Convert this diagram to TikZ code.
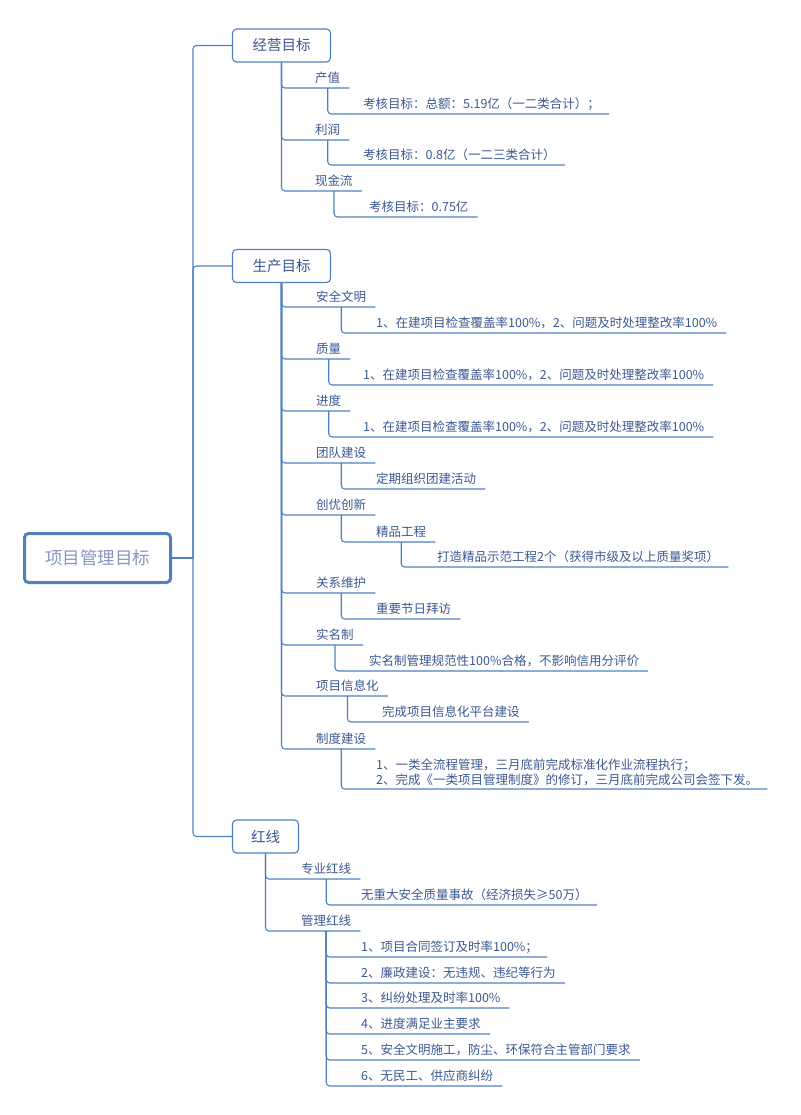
\documentclass[tikz,border=0pt]{standalone}
\usepackage{fontspec}
\setmainfont{Noto Sans CJK SC}
\definecolor{ln}{RGB}{79,129,189}
\definecolor{tx}{RGB}{58,88,145}
\definecolor{rt}{RGB}{135,150,190}
\tikzset{
 conn/.style={draw=ln, line width=1.1pt, rounded corners=3.5pt},
 lblbase/.style={anchor=south west, inner sep=0pt, text=tx, font=\fontsize{12.5}{15}\selectfont},
 lbl/.style={lblbase, text height=9.5pt, text depth=5pt},
 l1box/.style={draw=ln, line width=1.1pt, rounded corners=4pt, minimum height=33pt, inner sep=0pt, text=tx, font=\fontsize{14.5}{17}\selectfont, fill=white},
 rootbox/.style={draw=ln, line width=3pt, rounded corners=4pt, minimum width=146pt, minimum height=49pt, inner sep=0pt, text=rt, font=\fontsize{17.5}{20}\selectfont, fill=white}
}
\begin{document}
\begin{tikzpicture}[x=1pt,y=-1pt]
\useasboundingbox (0,0) rectangle (800,1115);
% root and level 1
\node[rootbox] (root) at (97.5,558) {项目管理目标};
\coordinate (tk) at (193,558);
\node[l1box, minimum width=98pt] (jy) at (281.5,45.5) {经营目标};
\node[l1box, minimum width=98pt] (sc) at (281.5,266) {生产目标};
\node[l1box, minimum width=66pt] (hx) at (265.5,836.5) {红线};
\draw[conn] (root.east) -- (tk);
\draw[conn] (tk) |- (jy.west);
\draw[conn] (tk) |- (sc.west);
\draw[conn] (tk) |- (hx.west);

% 经营目标
\node[lbl] (cz) at (315,88) {产值};
\node[lbl] (cz1) at (363,114) {考核目标：总额：5.19亿（一二类合计）；};
\node[lbl] (lr) at (315,140) {利润};
\node[lbl] (lr1) at (363,165) {考核目标：0.8亿（一二三类合计）};
\node[lbl] (xj) at (315,191) {现金流};
\node[lbl] (xj1) at (369,217) {考核目标：0.75亿};
\draw[conn] (jy.south) |- ([xshift=9pt]cz.south east);
\draw[conn] (jy.south) |- ([xshift=9pt]lr.south east);
\draw[conn] (jy.south) |- ([xshift=9pt]xj.south east);
\draw[conn] (cz.south) |- ([xshift=9pt]cz1.south east);
\draw[conn] (lr.south) |- ([xshift=9pt]lr1.south east);
\draw[conn] (xj.south) |- ([xshift=9pt]xj1.south east);

% 生产目标
\node[lbl] (aq) at (316,307) {安全文明};
\node[lbl] (aq1) at (376,333) {1、在建项目检查覆盖率100\%，2、问题及时处理整改率100\%};
\node[lbl] (zl) at (316,359) {质量};
\node[lbl] (zl1) at (363,385) {1、在建项目检查覆盖率100\%，2、问题及时处理整改率100\%};
\node[lbl] (jd) at (316,411) {进度};
\node[lbl] (jd1) at (363,437) {1、在建项目检查覆盖率100\%，2、问题及时处理整改率100\%};
\node[lbl] (td) at (316,463) {团队建设};
\node[lbl] (td1) at (376,489) {定期组织团建活动};
\node[lbl] (cy) at (316,515) {创优创新};
\node[lbl] (cy1) at (376,542) {精品工程};
\node[lbl] (cy2) at (437,567) {打造精品示范工程2个（获得市级及以上质量奖项）};
\node[lbl] (gx) at (316,593) {关系维护};
\node[lbl] (gx1) at (376,619) {重要节日拜访};
\node[lbl] (sm) at (316,645) {实名制};
\node[lbl] (sm1) at (369,671) {实名制管理规范性100\%合格，不影响信用分评价};
\node[lbl] (xx) at (316,696) {项目信息化};
\node[lbl] (xx1) at (382,722) {完成项目信息化平台建设};
\node[lbl] (zd) at (316,749) {制度建设};
\node[lblbase, align=left] (zd1) at (376,786) {1、一类全流程管理，三月底前完成标准化作业流程执行；\\2、完成《一类项目管理制度》的修订，三月底前完成公司会签下发。};
\foreach \c in {aq,zl,jd,td,cy,gx,sm,xx,zd}
  \draw[conn] (sc.south) |- ([xshift=9pt]\c.south east);
\foreach \p/\c in {aq/aq1,zl/zl1,jd/jd1,td/td1,cy/cy1,cy1/cy2,gx/gx1,sm/sm1,xx/xx1}
  \draw[conn] (\p.south) |- ([xshift=9pt]\c.south east);
\draw[conn] (zd.south) |- ([shift={(9,3)}]zd1.south east);

% 红线
\node[lbl] (zy) at (301,879) {专业红线};
\node[lbl] (zy1) at (361,905) {无重大安全质量事故（经济损失≥50万）};
\node[lbl] (gl) at (301,931) {管理红线};
\node[lbl] (g1) at (361,957) {1、项目合同签订及时率100\%；};
\node[lbl] (g2) at (361,983) {2、廉政建设：无违规、违纪等行为};
\node[lbl] (g3) at (361,1008) {3、纠纷处理及时率100\%};
\node[lbl] (g4) at (361,1034) {4、进度满足业主要求};
\node[lbl] (g5) at (361,1060) {5、安全文明施工，防尘、环保符合主管部门要求};
\node[lbl] (g6) at (361,1086) {6、无民工、供应商纠纷};
\draw[conn] (hx.south) |- ([xshift=9pt]zy.south east);
\draw[conn] (hx.south) |- ([xshift=9pt]gl.south east);
\draw[conn] (zy.south) |- ([xshift=9pt]zy1.south east);
\foreach \c in {g1,g2,g3,g4,g5,g6}
  \draw[conn] (gl.south) |- ([xshift=9pt]\c.south east);
\end{tikzpicture}
\end{document}
